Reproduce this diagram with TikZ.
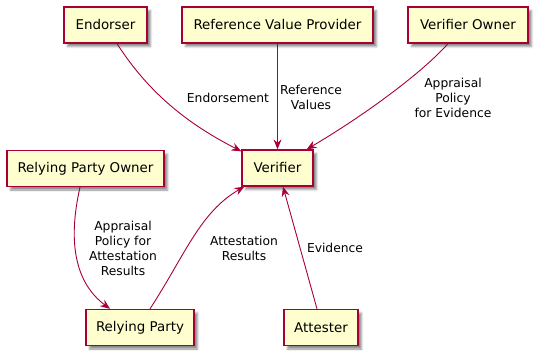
\documentclass[tikz,border=0pt]{standalone}
\usepackage{fontspec}
\setmainfont{DejaVu Sans}
\usetikzlibrary{arrows.meta,shadows.blur}
\definecolor{boxfill}{HTML}{FEFECE}
\definecolor{umlred}{HTML}{A80036}
\tikzset{
  actor/.style={draw=umlred, fill=boxfill, line width=1.3pt, inner sep=0pt,
    minimum height=36pt, font=\fontsize{13.4}{16}\selectfont,
    blur shadow={shadow xshift=3.5pt, shadow yshift=-3.5pt,
      shadow blur radius=2pt, shadow opacity=45}},
  flow/.style={draw=umlred, line width=0.9pt,
    -{Stealth[length=10pt, width=8pt, inset=3.5pt]}},
  tag/.style={align=center, inner sep=0pt, font=\fontsize{12.3}{15}\selectfont}
}
\begin{document}
\begin{tikzpicture}[x=1pt, y=-1pt]
\useasboundingbox (0,0) rectangle (538,356);

% participants
\node[actor, minimum width=83pt]  (endorser) at (105.5,25)  {Endorser};
\node[actor, minimum width=191pt] (refprov)  at (277.5,25)  {Reference Value Provider};
\node[actor, minimum width=120pt] (vowner)   at (468,25)    {Verifier Owner};
\node[actor, minimum width=157pt] (rpowner)  at (85.5,168.5){Relying Party Owner};
\node[actor, minimum width=71pt]  (verifier) at (277.5,168) {Verifier};
\node[actor, minimum width=108pt] (rparty)   at (140,327.5) {Relying Party};
\node[actor, minimum width=74pt]  (attester) at (321,327.5) {Attester};

% conveyances
\draw[flow] ([xshift=11.5pt]endorser.south)
  .. controls (150,95) and (190,125) .. ([yshift=-2pt]verifier.north west);
\draw[flow] (refprov.south) -- (verifier.north);
\draw[flow] ([xshift=-20pt]vowner.south)
  .. controls (420,75) and (360,118) .. ([xshift=-7pt]verifier.north east);
\draw[flow] ([xshift=-5.5pt]rpowner.south)
  .. controls (68,240) and (74,282) .. ([xshift=-30pt]rparty.north);
\draw[flow] ([xshift=10pt]rparty.north)
  .. controls (185,255) and (200,212) .. ([xshift=3pt]verifier.south west);
\draw[flow] ([xshift=-4pt]attester.north) -- ([xshift=5.5pt]verifier.south);

% labels
\node[tag] (lEnd)  at (228,98)  {Endorsement};
\node[tag] (lRef)  at (311,97)  {Reference\\Values};
\node[tag] (lPol)  at (453,98)  {Appraisal\\Policy\\for Evidence};
\node[tag] (lRpol) at (123,248.5) {Appraisal\\Policy for\\Attestation\\Results};
\node[tag] (lAR)   at (244,248.5) {Attestation\\Results};
\node[tag] (lEv)   at (335,248) {Evidence};
\end{tikzpicture}
\end{document}
